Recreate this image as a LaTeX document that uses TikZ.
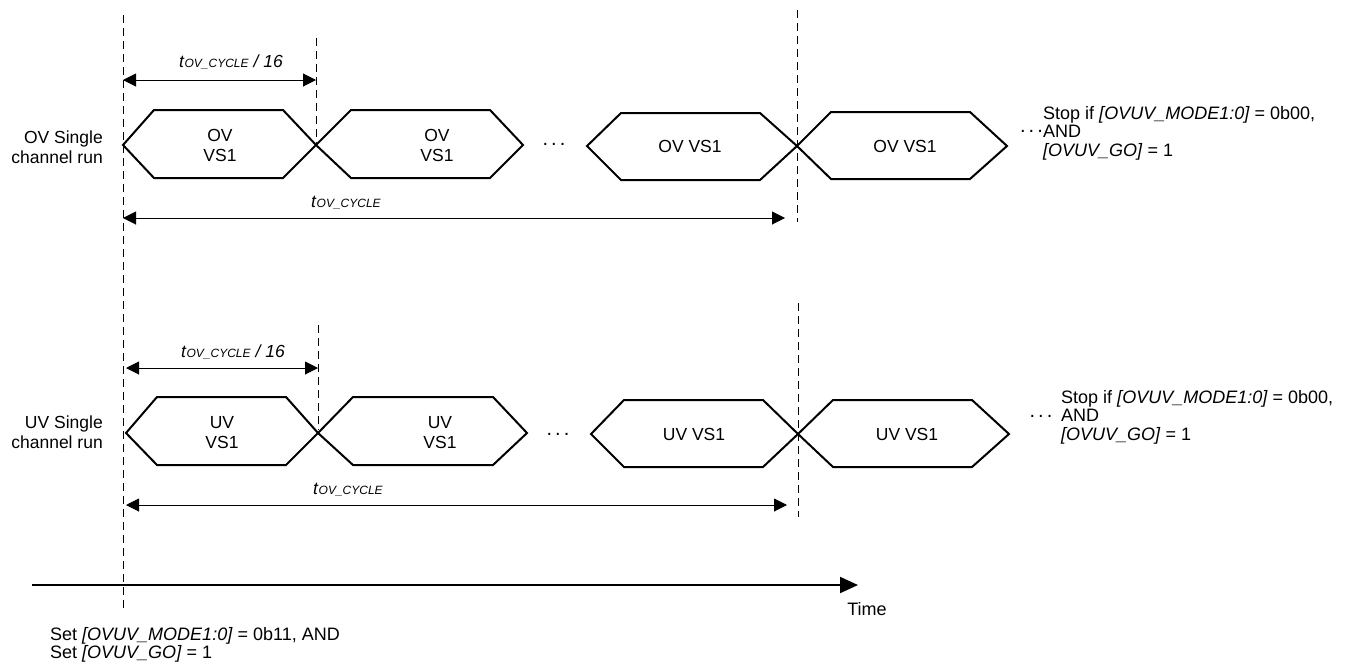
\documentclass[tikz,border=0pt]{standalone}
\usepackage{fontspec}
\setmainfont{Liberation Sans}
\usetikzlibrary{arrows.meta}
\tikzset{
  txt/.style={inner sep=0pt, font=\fontsize{17.5}{20}\selectfont},
  stoptxt/.style={inner sep=0pt, font=\fontsize{18}{18.5}\selectfont},
  dots/.style={inner sep=0pt, font=\fontsize{20}{20}\selectfont},
  hex/.style={line width=2pt, line join=miter},
  guide/.style={line width=1pt, dash pattern=on 8pt off 5pt},
  dim/.style={line width=1pt, {Triangle[length=13pt,width=13pt]}-{Triangle[length=13pt,width=13pt]}},
  axis/.style={line width=2pt, -{Triangle[length=18pt,width=16pt]}},
}
\newcommand{\tcyc}{\textit{t}{\fontsize{12}{12}\selectfont\textit{OV\_CYCLE}}}
\begin{document}
\begin{tikzpicture}[x=1pt,y=-1pt]
\useasboundingbox (0,0) rectangle (1348,667);

% ---------- guide lines ----------
\coordinate (g0t) at (123,15);   \coordinate (g0b) at (123,608);
\coordinate (g1t) at (316,38);   \coordinate (g1b) at (316,143);
\coordinate (g2t) at (797,10);   \coordinate (g2b) at (797,222);
\coordinate (g3t) at (318,325);  \coordinate (g3b) at (318,430);
\coordinate (g4t) at (798,303);  \coordinate (g4b) at (798,517);
\draw[guide] (g0t) -- (g0b);
\draw[guide] (g1t) -- (g1b);
\draw[guide] (g2t) -- (g2b);
\draw[guide] (g3t) -- (g3b);
\draw[guide] (g4t) -- (g4b);

% ---------- OV row ----------
\node[txt, align=right, anchor=east] (ovlab) at (103,147) {OV Single\\channel run};
\draw[hex] (123,145) -- (154,110) -- (283,110) -- (316,145) -- (283,178) -- (154,178) -- cycle;
\draw[hex] (316,145) -- (351,110) -- (490,110) -- (523,145) -- (490,178) -- (351,178) -- cycle;
\draw[hex] (587,146) -- (621,113) -- (760,113) -- (797,146) -- (760,180) -- (621,180) -- cycle;
\draw[hex] (797,146) -- (831,112) -- (970,112) -- (1007,146) -- (970,179) -- (831,179) -- cycle;
\node[txt, align=center] (ov1) at (220,145) {OV\\VS1};
\node[txt, align=center] (ov2) at (437,145) {OV\\VS1};
\node[txt] (ov3) at (690,146) {OV VS1};
\node[txt] (ov4) at (905,146) {OV VS1};
\node[dots] (ovdots1) at (554,144) {.\kern3pt.\kern3pt.};
\node[dots, anchor=east] (ovdots2) at (1043,131) {.\kern3pt.\kern3pt.};
\node[stoptxt, align=left, anchor=west] (ovstop) at (1043,133)
  {Stop if \textit{[OVUV\_MODE1:0]} = 0b00,\\AND\\\textit{[OVUV\_GO]} = 1};

\coordinate (oa1) at (123,80); \coordinate (oa2) at (316,80);
\draw[dim] (oa1) -- (oa2);
\node[txt] (ovt16) at (231,62) {\tcyc\textit{ / 16}};
\coordinate (ob1) at (123,218); \coordinate (ob2) at (785,218);
\draw[dim] (ob1) -- (ob2);
\node[txt] (ovtc) at (346,203) {\tcyc};

% ---------- UV row ----------
\node[txt, align=right, anchor=east] (uvlab) at (103,432) {UV Single\\channel run};
\draw[hex] (126,433) -- (157,397) -- (286,397) -- (318,433) -- (286,465) -- (157,465) -- cycle;
\draw[hex] (318,433) -- (353,397) -- (493,397) -- (527,433) -- (493,465) -- (353,465) -- cycle;
\draw[hex] (591,434) -- (624,400) -- (763,400) -- (798,434) -- (763,467) -- (624,467) -- cycle;
\draw[hex] (798,434) -- (833,400) -- (972,400) -- (1009,434) -- (972,467) -- (833,467) -- cycle;
\node[txt, align=center] (uv1) at (222,433) {UV\\VS1};
\node[txt, align=center] (uv2) at (440,433) {UV\\VS1};
\node[txt] (uv3) at (694,434) {UV VS1};
\node[txt] (uv4) at (907,434) {UV VS1};
\node[dots] (uvdots1) at (558,434) {.\kern3pt.\kern3pt.};
\node[dots] (uvdots2) at (1041,416) {.\kern3pt.\kern3pt.};
\node[stoptxt, align=left, anchor=west] (uvstop) at (1061,417)
  {Stop if \textit{[OVUV\_MODE1:0]} = 0b00,\\AND\\\textit{[OVUV\_GO]} = 1};

\coordinate (ua1) at (126,368); \coordinate (ua2) at (318,368);
\draw[dim] (ua1) -- (ua2);
\node[txt] (uvt16) at (233,352) {\tcyc\textit{ / 16}};
\coordinate (ub1) at (126,505); \coordinate (ub2) at (787,505);
\draw[dim] (ub1) -- (ub2);
\node[txt] (uvtc) at (348,490) {\tcyc};

% ---------- time axis ----------
\coordinate (ax1) at (32,585); \coordinate (ax2) at (858,585);
\draw[axis] (ax1) -- (ax2);
\node[txt, font=\fontsize{18}{18}\selectfont] (time) at (867,609) {Time};
\node[txt, align=left, anchor=west, font=\fontsize{18}{18.5}\selectfont] (setlab) at (50,645)
  {Set \textit{[OVUV\_MODE1:0]} = 0b11, AND\\Set \textit{[OVUV\_GO]} = 1};
\end{tikzpicture}
\end{document}
